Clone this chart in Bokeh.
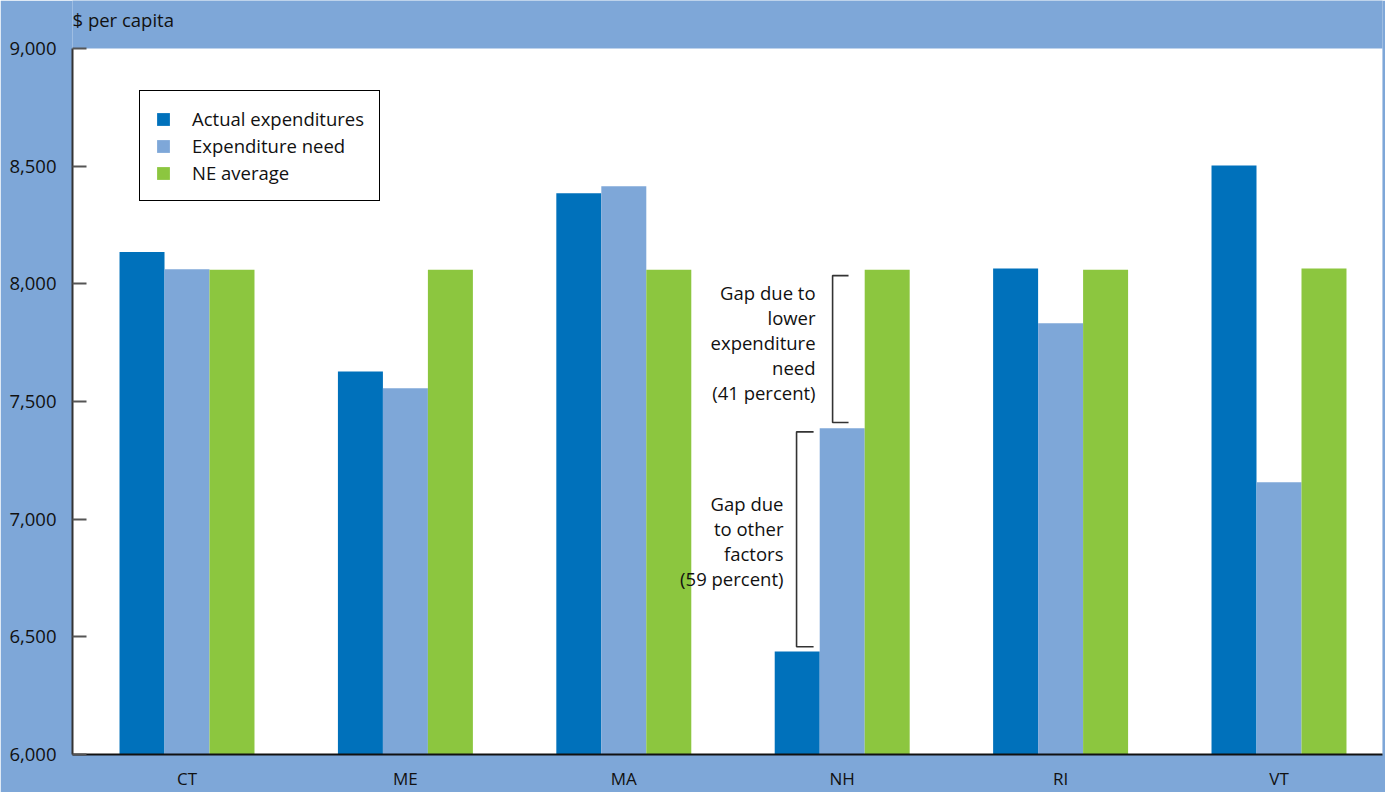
import numpy as np
from bokeh.plotting import figure
from bokeh.models import Range1d, FixedTicker, Label, NumeralTickFormatter, BoxAnnotation
from bokeh.embed import file_html
from bokeh.resources import INLINE

# Per-capita expenditures by New England state
states = ["CT", "ME", "MA", "NH", "RI", "VT"]
actual = [8135, 7628, 8385, 6438, 8065, 8503]
need = [8062, 7556, 8415, 7386, 7832, 7157]
ne_average = [8060, 8060, 8060, 8060, 8060, 8065]
y_ticks = [6000, 6500, 7000, 7500, 8000, 8500, 9000]

BG = "#7ea7d8"
C_ACTUAL = "#0071bb"
C_NEED = "#7ea7d8"
C_AVG = "#8cc63f"
FONT = "Open Sans"
FS = "18.5px"

x = np.arange(len(states))
bw = 0.206
y_lo, y_hi = y_ticks[0], y_ticks[-1]

# the frame runs to the top of the canvas so the unit caption can sit in it;
# the white plot area itself stops at the top tick
plot_h = 706
top_space = 48
y_top = y_hi + (y_hi - y_lo) * top_space / plot_h

p = figure(width=1385, height=792, output_backend="svg", toolbar_location=None,
           x_range=Range1d(-0.5243, 5.4739), y_range=Range1d(y_lo, y_top),
           min_border_left=72, min_border_right=3, min_border_top=0, min_border_bottom=38,
           background_fill_color=BG, border_fill_color=BG, outline_line_color=None)
p.grid.visible = False

p.add_layout(BoxAnnotation(bottom=y_lo, top=y_hi, fill_color="white", fill_alpha=1,
                           line_color=None, level="underlay"))

p.vbar(x=x - bw, top=actual, bottom=y_lo, width=bw, color=C_ACTUAL, line_color=None,
       legend_label="Actual expenditures")
p.vbar(x=x, top=need, bottom=y_lo, width=bw, color=C_NEED, line_color=None,
       legend_label="Expenditure need")
p.vbar(x=x + bw, top=ne_average, bottom=y_lo, width=bw, color=C_AVG, line_color=None,
       legend_label="NE average")

# unit caption
p.add_layout(Label(x=-0.5243, y=y_hi + 123, text="$ per capita", text_font=FONT,
                   text_font_size=FS, text_color="#111111",
                   text_align="left", text_baseline="alphabetic"))

# y axis
ya = p.yaxis[0]
ya.bounds = (y_lo, y_hi)
ya.ticker = FixedTicker(ticks=y_ticks)
ya.formatter = NumeralTickFormatter(format="0,0")
ya.major_tick_in = 14
ya.major_tick_out = 0
ya.minor_tick_line_color = None
ya.axis_line_color = "#333333"
ya.axis_line_width = 2
ya.major_tick_line_color = "#555555"
ya.major_tick_line_width = 2
ya.major_label_standoff = 16
ya.major_label_text_font = FONT
ya.major_label_text_font_size = FS
ya.major_label_text_color = "#111111"

# x axis
xa = p.xaxis[0]
xa.ticker = FixedTicker(ticks=list(x))
xa.major_label_overrides = {int(i): s for i, s in zip(x, states)}
xa.major_tick_in = 0
xa.major_tick_out = 0
xa.minor_tick_line_color = None
xa.axis_line_color = "#111111"
xa.axis_line_width = 2
xa.major_label_standoff = 12
xa.major_label_text_font = FONT
xa.major_label_text_font_size = "17px"
xa.major_label_text_color = "#111111"

# legend
lg = p.legend[0]
lg.location = (67, 553)
lg.border_line_color = "black"
lg.border_line_width = 1
lg.border_line_alpha = 1
lg.background_fill_color = "white"
lg.background_fill_alpha = 1
lg.glyph_width = 16
lg.glyph_height = 16
lg.label_height = 20
lg.spacing = 2
lg.padding = 15
lg.margin = 0
lg.label_standoff = 21
lg.label_text_font = FONT
lg.label_text_font_size = FS
lg.label_text_color = "#111111"

# NH gap brackets
nh = states.index("NH")
top1 = ne_average[nh] - 25
bot1 = need[nh] + 25
top2 = need[nh] - 15
bot2 = actual[nh] + 20
xv1, xa1 = nh - 0.044, nh + 0.029
xv2, xa2 = nh - 0.209, nh - 0.131
p.multi_line(xs=[[xa1, xv1, xv1, xa1], [xa2, xv2, xv2, xa2]],
             ys=[[top1, top1, bot1, bot1], [top2, top2, bot2, bot2]],
             line_color="#333333", line_width=1.6)

p.add_layout(Label(x=nh - 0.122, y=8015,
                   text="Gap due to\nlower\nexpenditure\nneed\n(41 percent)",
                   text_font=FONT, text_font_size=FS, text_color="#111111",
                   text_align="right", text_baseline="top", text_line_height=1.0))
p.add_layout(Label(x=nh - 0.269, y=7118,
                   text="Gap due\nto other\nfactors\n(59 percent)",
                   text_font=FONT, text_font_size=FS, text_color="#111111",
                   text_align="right", text_baseline="top", text_line_height=1.0))

open("out.html", "w").write(file_html(p, INLINE))
